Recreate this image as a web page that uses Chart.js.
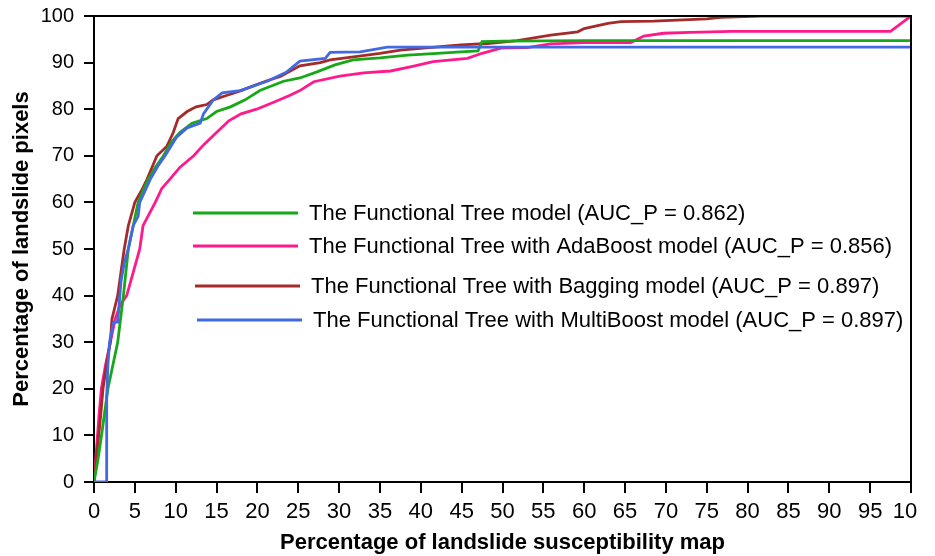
<!DOCTYPE html>
<html lang="en">
<head>
    <meta charset="UTF-8">
    <title>Success rate curves</title>
    <script src="https://cdn.jsdelivr.net/npm/chart.js"></script>
    <style>
        html,
        body {
            margin: 0;
            padding: 0;
            background-color: #ffffff;
            font-family: "Liberation Sans", Arial, sans-serif;
        }

        #clip {
            width: 917px;
            height: 556px;
            overflow: hidden;
        }

        #chart-container {
            width: 935px;
            height: 556px;
        }
    </style>
</head>
<body>
    <div id="clip">
        <div id="chart-container">
            <canvas id="roc"></canvas>
        </div>
    </div>

    <script>
        const seriesNames = [
            'The Functional Tree model (AUC_P = 0.862)',
            'The Functional Tree with AdaBoost model (AUC_P = 0.856)',
            'The Functional Tree with Bagging model (AUC_P = 0.897)',
            'The Functional Tree with MultiBoost model (AUC_P = 0.897)'
        ];
        const seriesColors = ['#17a817', '#ff1a8c', '#a52a2a', '#4169e1'];

        const xTitle = 'Percentage of landslide susceptibility map';
        const yTitle = 'Percentage of landslide pixels';

        // Functional Tree
        const ftX = [0, 0.5, 1, 1.7, 2.3, 2.9, 3.6, 4.2, 4.8, 5.4, 6.5, 7.5, 8.5, 9.5, 10.5, 12, 13.8, 15, 16.7, 18.5, 20.3, 23.2, 25.2, 27.3, 29.5, 31.7, 35, 38.4, 42, 44.9, 47, 47.5, 50, 60, 70, 80, 90, 100];
        const ftY = [0, 5, 11, 20, 25, 30, 40, 50, 55, 60, 64.5, 67.5, 70, 73, 75, 77, 78, 79.5, 80.5, 82, 84, 86, 86.7, 88, 89.5, 90.6, 91, 91.6, 92, 92.3, 92.5, 94.5, 94.6, 94.7, 94.7, 94.7, 94.7, 94.7];

        // FT + AdaBoost
        const adaX = [0, 0.3, 0.6, 0.9, 1.4, 2.0, 2.6, 3.2, 4.0, 4.8, 5.6, 6.0, 6.6, 7.5, 8.3, 9.3, 10.5, 12.2, 13.5, 15, 16.5, 18, 19.9, 22, 24, 25.2, 26.9, 30.1, 33, 36.3, 39, 41.5, 45.7, 47.5, 49.8, 53, 55.9, 60, 65.7, 67.3, 69.7, 73, 78, 85, 97.5, 100];
        const adaY = [0, 7, 14, 20, 25, 30, 35, 38, 40, 45, 50, 55, 57, 60, 63, 65, 67.5, 70, 72.5, 75, 77.5, 79, 80, 81.5, 83, 84, 85.9, 87.1, 87.8, 88.2, 89.2, 90.2, 90.9, 92, 93.1, 93.2, 94, 94.3, 94.3, 95.7, 96.3, 96.5, 96.7, 96.7, 96.7, 100];

        // FT + Bagging
        const bagX = [0, 0.4, 0.8, 1.1, 1.6, 2.0, 2.2, 2.9, 3.3, 3.7, 4.2, 5, 5.8, 6.5, 7.7, 8.9, 9.7, 10.3, 11.4, 12.5, 13.8, 14.6, 16.3, 18, 19.5, 21, 22.8, 25.2, 27.7, 28.9, 32, 35, 37.5, 41, 44.9, 48.2, 51.8, 55.9, 59.2, 60, 62.9, 64.5, 68.5, 75, 76.7, 81.6, 100];
        const bagY = [0, 7, 14, 20, 26, 30, 35, 40, 45, 50, 55, 60, 62.5, 65, 70, 72, 75, 78, 79.5, 80.5, 81, 82, 83, 84, 85, 86, 87, 89.3, 90, 90.6, 91.3, 92, 92.7, 93.2, 93.8, 94.1, 94.7, 95.9, 96.6, 97.3, 98.4, 98.8, 98.9, 99.4, 99.7, 100, 100];

        // FT + MultiBoost
        const mbX = [0, 1.55, 1.55, 1.7, 1.9, 2.4, 2.9, 3.3, 3.7, 4.2, 4.8, 5.4, 5.6, 6.9, 7.9, 8.7, 10.1, 11.4, 13, 13.4, 14.6, 15.7, 17.9, 21.2, 23.6, 25.2, 28.3, 28.9, 32.6, 35.9, 50, 100];
        const mbY = [0, 0, 18, 25, 30, 34.3, 34.3, 43, 47, 50, 55, 57, 60, 65, 68, 70, 74, 76, 77, 79, 82, 83.5, 84, 86, 88, 90.3, 90.9, 92.2, 92.3, 93.3, 93.3, 93.3];

        const seriesX = [ftX, adaX, bagX, mbX];
        const seriesY = [ftY, adaY, bagY, mbY];
        // draw order: blue on top, pink at the bottom
        const drawOrder = [1, 3, 2, 0];

        const toPoints = (xs, ys) => xs.map((x, i) => ({ x: x, y: ys[i] }));

        const frameAndLegend = {
            id: 'frameAndLegend',
            afterDatasetsDraw(chart) {
                const { ctx, chartArea } = chart;
                ctx.save();
                ctx.strokeStyle = '#000';
                ctx.lineWidth = 2;
                ctx.beginPath();
                ctx.moveTo(chartArea.left, chartArea.top);
                ctx.lineTo(chartArea.right, chartArea.top);
                ctx.lineTo(chartArea.right, chartArea.bottom);
                ctx.stroke();

                // legend inside the plot
                const rows = [197, 230, 270, 304];
                const lineStart = [99, 99, 101, 103];
                ctx.font = '22px "Liberation Sans", Arial, sans-serif';
                ctx.textBaseline = 'middle';
                ctx.fillStyle = '#000';
                seriesNames.forEach((name, i) => {
                    const y = chartArea.top + rows[i];
                    const x0 = chartArea.left + lineStart[i];
                    ctx.strokeStyle = seriesColors[i];
                    ctx.lineWidth = 3;
                    ctx.beginPath();
                    ctx.moveTo(x0, y);
                    ctx.lineTo(x0 + 105, y);
                    ctx.stroke();
                    ctx.fillText(name, x0 + 116, y + 1);
                });
                ctx.restore();
            }
        };

        document.addEventListener("DOMContentLoaded", () => {
            const canvas = document.getElementById("roc");

            new Chart(canvas, {
                type: 'line',
                data: {
                    datasets: seriesNames.map((name, i) => ({
                        label: name,
                        data: toPoints(seriesX[i], seriesY[i]),
                        borderColor: seriesColors[i],
                        backgroundColor: seriesColors[i],
                        borderWidth: 2.8,
                        pointRadius: 0,
                        tension: 0,
                        fill: false,
                        order: drawOrder[i]
                    }))
                },
                options: {
                    responsive: true,
                    maintainAspectRatio: false,
                    animation: false,
                    layout: {
                        padding: { top: 16, right: 24, left: 0, bottom: 0 }
                    },
                    scales: {
                        x: {
                            type: 'linear',
                            min: 0,
                            max: 100,
                            ticks: {
                                stepSize: 5,
                                autoSkip: false,
                                maxRotation: 0,
                                color: '#000',
                                padding: 6,
                                font: { family: '"Liberation Sans", Arial, sans-serif', size: 22 }
                            },
                            grid: {
                                drawOnChartArea: false,
                                tickLength: 11,
                                color: '#000',
                                lineWidth: 2
                            },
                            border: { display: true, color: '#000', width: 2 },
                            title: {
                                display: true,
                                text: xTitle,
                                color: '#000',
                                padding: { top: 0, bottom: 0 },
                                font: { family: '"Liberation Sans", Arial, sans-serif', size: 22, weight: 'bold' }
                            },
                            afterFit(scale) {
                                scale.height = 74;
                                scale.paddingRight = 0;
                            }
                        },
                        y: {
                            min: 0,
                            max: 100,
                            ticks: {
                                stepSize: 10,
                                color: '#000',
                                padding: 10,
                                font: { family: '"Liberation Sans", Arial, sans-serif', size: 20 }
                            },
                            grid: {
                                drawOnChartArea: false,
                                tickLength: 10,
                                color: '#000',
                                lineWidth: 2
                            },
                            border: { display: true, color: '#000', width: 2 },
                            title: {
                                display: true,
                                text: yTitle,
                                color: '#000',
                                padding: { top: 9, bottom: 0 },
                                font: { family: '"Liberation Sans", Arial, sans-serif', size: 22, weight: 'bold' }
                            },
                            afterFit(scale) {
                                scale.width = 94;
                                scale.paddingTop = 0;
                                scale.paddingBottom = 0;
                            }
                        }
                    },
                    plugins: {
                        legend: { display: false },
                        tooltip: { enabled: false },
                        title: { display: false }
                    }
                },
                plugins: [frameAndLegend]
            });
        });
    </script>
</body>
</html>
